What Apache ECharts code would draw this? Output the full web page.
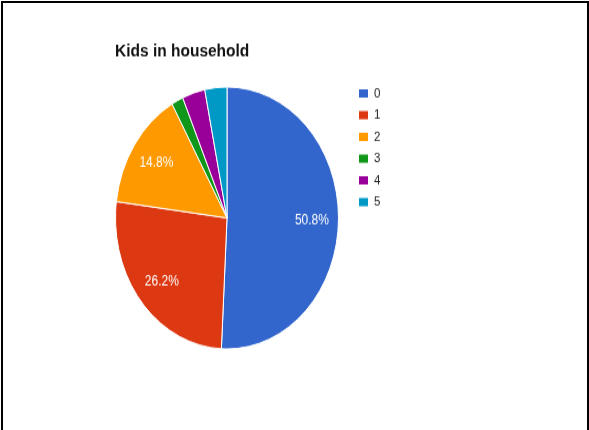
<!DOCTYPE html>
<html><head><meta charset="utf-8">
<script src="https://cdn.jsdelivr.net/npm/echarts@6/dist/echarts.min.js"></script>
<style>
html,body{margin:0;padding:0;background:#fff;overflow:hidden;width:589px;height:430px;}
#frame{position:absolute;left:1px;top:1px;width:588px;height:429px;box-sizing:border-box;border-left:2px solid #000;border-right:2px solid #000;border-top:2px solid #000;pointer-events:none;}
#chart{position:absolute;left:0;top:0;width:589px;height:366px;transform:scaleY(1.175);transform-origin:0 0;}
</style></head>
<body>
<div id="chart"></div>
<div id="frame"></div>
<script>
const titleText = 'Kids in household';
const categories = ['0', '1', '2', '3', '4', '5'];
const values = [50.8, 26.2, 14.8, 1.7, 3.3, 3.2];
const colors = ['#3366cc', '#dc3912', '#ff9900', '#109618', '#990099', '#0099c6'];

const data = categories.map((c, i) => ({ name: c, value: values[i] }));
const R = 111.5;
const center = [227, 185.5];
const font = '"Liberation Sans", Arial, sans-serif';

const chart = echarts.init(document.getElementById('chart'), null, { renderer: 'canvas' });
chart.setOption({
  animation: false,
  color: colors,
  title: {
    text: titleText, left: 115, top: 36, padding: 0,
    textStyle: { fontFamily: font, fontSize: 15.5, fontWeight: 'bold', color: '#111' }
  },
  legend: {
    orient: 'vertical', left: 357, top: 73.5, padding: 0,
    icon: 'rect', itemWidth: 11, itemHeight: 9, itemGap: 6.5,
    data: categories,
    textStyle: { fontFamily: font, fontSize: 11.5, color: '#222' }
  },
  series: [
    {
      type: 'pie', center: center, radius: [0, R], startAngle: 90, clockwise: true,
      data: data,
      label: { show: false }, labelLine: { show: false },
      itemStyle: { borderColor: '#fff', borderWidth: 1 },
      emphasis: { disabled: true }
    },
    {
      type: 'pie', center: center, radius: [0, R * 1.47], startAngle: 90, clockwise: true,
      data: data, silent: true,
      itemStyle: { color: 'rgba(0,0,0,0)', borderWidth: 0 },
      label: {
        show: true, position: 'inside', color: '#fff', fontFamily: font, fontSize: 12,
        formatter: p => p.value >= 5 ? p.value.toFixed(1) + '%' : ''
      },
      labelLine: { show: false },
      emphasis: { disabled: true }
    }
  ]
});
</script>
</body></html>
